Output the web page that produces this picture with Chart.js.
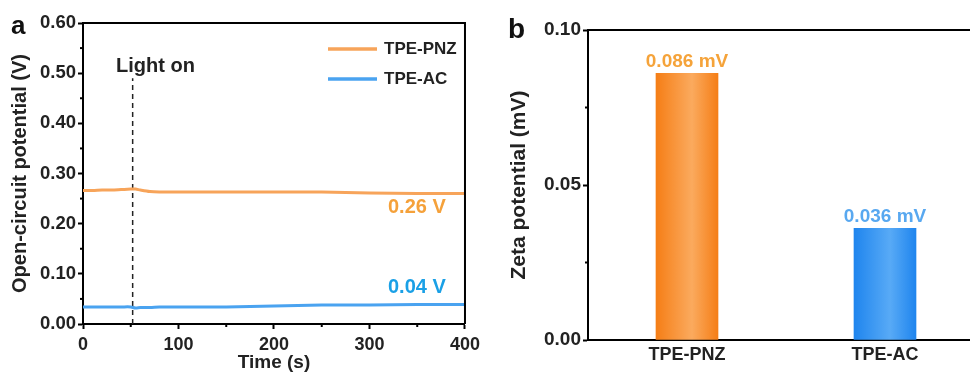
<!DOCTYPE html>
<html>
<head>
<meta charset="utf-8">
<script src="https://cdn.jsdelivr.net/npm/chart.js@4.4.0/dist/chart.umd.min.js"></script>
<style>
  html, body { margin: 0; padding: 0; overflow: hidden; background: #fff; width: 970px; height: 374px; }
  #chartA { position: absolute; left: 0; top: 0; }
  #chartB { position: absolute; left: 485px; top: 0; }
</style>
</head>
<body>
<canvas id="chartA" width="485" height="374"></canvas>
<canvas id="chartB" width="515" height="374"></canvas>
<script>
// panel a - open-circuit potential
const timeS = [0, 10, 20, 30, 40, 50, 55, 60, 70, 80, 90, 100, 150, 200, 250, 300, 350, 400];
const pnzV  = [0.266, 0.266, 0.267, 0.267, 0.268, 0.269, 0.269, 0.267, 0.264, 0.263, 0.263, 0.263, 0.263, 0.263, 0.263, 0.261, 0.260, 0.260];
const acV   = [0.034, 0.034, 0.034, 0.034, 0.034, 0.034, 0.032, 0.033, 0.033, 0.034, 0.034, 0.034, 0.034, 0.036, 0.038, 0.038, 0.039, 0.039];
const lightOnTime = 52;
const lightOnTop = 0.49;
const xTicksA = [0, 100, 200, 300, 400];
const xMinorA = [50, 150, 250, 350];
const yTicksA = [0, 0.1, 0.2, 0.3, 0.4, 0.5, 0.6];
const yMinorA = [0.05, 0.15, 0.25, 0.35, 0.45, 0.55];

// panel b - zeta potential
const samples = ['TPE-PNZ', 'TPE-AC'];
const zeta = [0.086, 0.036];
const zetaText = ['0.086 mV', '0.036 mV'];
const yTicksB = [0, 0.05, 0.10];
const yMinorB = [0.025, 0.075];

const FONT = '"Liberation Sans", Arial, sans-serif';
Chart.defaults.font.family = FONT;
Chart.defaults.font.weight = 'bold';
Chart.defaults.color = '#222';
Chart.defaults.animation = false;

function setTicks(list) {
  return function (scale) { scale.ticks = list.map(v => ({ value: v })); };
}

function minorTicks(axis, list, len) {
  return function (chart) {
    const c = chart.ctx, s = chart.scales[axis], a = chart.chartArea;
    c.save();
    c.strokeStyle = '#000';
    c.lineWidth = 2;
    list.forEach(v => {
      const p = s.getPixelForValue(v);
      c.beginPath();
      if (axis === 'y') { c.moveTo(a.left, p); c.lineTo(a.left - len, p); }
      else { c.moveTo(p, a.bottom); c.lineTo(p, a.bottom + len); }
      c.stroke();
    });
    c.restore();
  };
}

function text(c, str, x, y, color, size, align) {
  c.fillStyle = color;
  c.font = 'bold ' + size + 'px ' + FONT;
  c.textAlign = align || 'left';
  c.textBaseline = 'middle';
  c.fillText(str, x, y);
}

// ---------- panel a ----------
const extrasA = {
  id: 'extrasA',
  afterDraw(chart) {
    const c = chart.ctx, a = chart.chartArea;
    c.save();
    c.strokeStyle = '#000';
    c.lineWidth = 2;
    c.beginPath();
    c.moveTo(a.left, a.top); c.lineTo(a.right, a.top); c.lineTo(a.right, a.bottom);
    c.stroke();
    minorTicks('y', yMinorA, 3)(chart);
    minorTicks('x', xMinorA, 3)(chart);
    // legend
    c.lineWidth = 3.5;
    c.strokeStyle = '#f7a45a';
    c.beginPath(); c.moveTo(328, 49); c.lineTo(377, 49); c.stroke();
    c.strokeStyle = '#4aa3f0';
    c.beginPath(); c.moveTo(328, 79); c.lineTo(377, 79); c.stroke();
    text(c, 'TPE-PNZ', 384, 49, '#222', 17);
    text(c, 'TPE-AC', 384, 79, '#222', 17);
    text(c, 'Light on', 116, 66, '#222', 20);
    text(c, '0.26 V', 388, 207, '#f5a13a', 20);
    text(c, '0.04 V', 388, 287, '#1aa0e6', 20);
    text(c, 'a', 11, 27, '#111', 26);
    c.restore();
  }
};

new Chart(document.getElementById('chartA'), {
  type: 'line',
  data: {
    datasets: [
      { label: 'TPE-PNZ', data: timeS.map((t, i) => ({ x: t, y: pnzV[i] })), borderColor: '#f7a45a', borderWidth: 3, pointRadius: 0, tension: 0.3 },
      { label: 'TPE-AC', data: timeS.map((t, i) => ({ x: t, y: acV[i] })), borderColor: '#4aa3f0', borderWidth: 3, pointRadius: 0, tension: 0.3 },
      { label: 'Light on', data: [{ x: lightOnTime, y: 0 }, { x: lightOnTime, y: lightOnTop }], borderColor: '#222', borderWidth: 1.5, borderDash: [5, 4], pointRadius: 0 }
    ]
  },
  options: {
    responsive: false,
    layout: { padding: { top: 23, right: 20, left: 0, bottom: 0 } },
    plugins: { legend: { display: false }, tooltip: { enabled: false } },
    scales: {
      x: {
        type: 'linear', min: 0, max: 400,
        afterBuildTicks: setTicks(xTicksA),
        afterFit(s) { s.height = 50; },
        grid: { drawOnChartArea: false, tickLength: 5, tickWidth: 2, tickColor: '#000' },
        border: { color: '#000', width: 2 },
        ticks: { font: { size: 18 }, padding: 5, maxRotation: 0 },
        title: { display: true, text: 'Time (s)', font: { size: 19 }, padding: 0 }
      },
      y: {
        min: 0, max: 0.6,
        afterBuildTicks: setTicks(yTicksA),
        afterFit(s) { s.width = 83; },
        grid: { drawOnChartArea: false, tickLength: 5, tickWidth: 2, tickColor: '#000' },
        border: { color: '#000', width: 2 },
        ticks: { font: { size: 18.5 }, padding: 2, callback: v => v.toFixed(2) },
        title: { display: true, text: 'Open-circuit potential (V)', font: { size: 20 }, padding: { top: 8, bottom: 0 } }
      }
    }
  },
  plugins: [extrasA]
});

// ---------- panel b ----------
const barEdge = ['#f57e16', '#1f85ee'];
const barMid = ['#fbaa5e', '#58aaf6'];
const labelColor = ['#f5a33a', '#58a8f0'];

function barFill(ctx) {
  const chart = ctx.chart, x = chart.scales.x;
  if (!x || x.width === undefined) return barEdge[ctx.dataIndex];
  const cx = x.getPixelForValue(ctx.dataIndex), w = 62;
  const g = chart.ctx.createLinearGradient(cx - w / 2, 0, cx + w / 2, 0);
  g.addColorStop(0, barEdge[ctx.dataIndex]);
  g.addColorStop(0.58, barMid[ctx.dataIndex]);
  g.addColorStop(1, barEdge[ctx.dataIndex]);
  return g;
}

const extrasB = {
  id: 'extrasB',
  afterDraw(chart) {
    const c = chart.ctx, a = chart.chartArea;
    c.save();
    c.strokeStyle = '#000';
    c.lineWidth = 2;
    c.beginPath(); c.moveTo(a.left, a.top); c.lineTo(chart.width, a.top); c.stroke();
    minorTicks('y', yMinorB, 3)(chart);
    chart.getDatasetMeta(0).data.forEach((el, i) => {
      text(c, zetaText[i], el.x, el.y - 12, labelColor[i], 19, 'center');
    });
    text(c, 'b', 23, 30, '#111', 28);
    c.restore();
  }
};

new Chart(document.getElementById('chartB'), {
  type: 'bar',
  data: {
    labels: samples,
    datasets: [{ data: zeta, backgroundColor: barFill, barThickness: 62, borderWidth: 0 }]
  },
  options: {
    responsive: false,
    layout: { padding: { top: 30, right: 16, left: 0, bottom: 0 } },
    plugins: { legend: { display: false }, tooltip: { enabled: false } },
    scales: {
      x: {
        afterFit(s) { s.height = 34; },
        grid: { display: false },
        border: { color: '#000', width: 2 },
        ticks: { font: { size: 18 }, padding: -4, color: '#222' }
      },
      y: {
        min: 0, max: 0.1,
        afterBuildTicks: setTicks(yTicksB),
        afterFit(s) { s.width = 103; },
        grid: { drawOnChartArea: false, tickLength: 5, tickWidth: 2, tickColor: '#000' },
        border: { color: '#000', width: 2 },
        ticks: { font: { size: 19 }, padding: 2, callback: v => v.toFixed(2) },
        title: { display: true, text: 'Zeta potential (mV)', font: { size: 21 }, padding: { top: 22, bottom: 0 } }
      }
    }
  },
  plugins: [extrasB]
});
</script>
</body>
</html>
